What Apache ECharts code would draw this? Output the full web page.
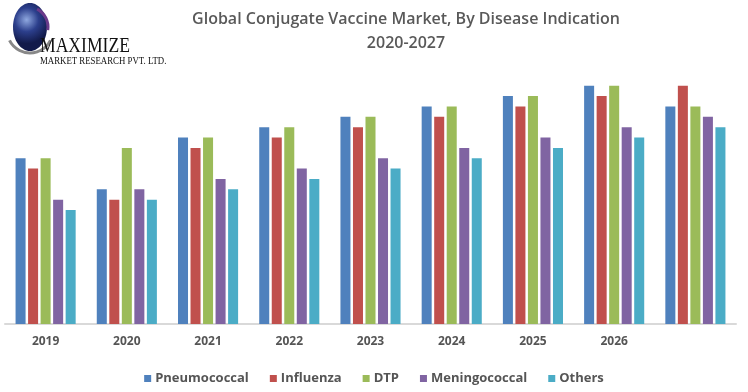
<!DOCTYPE html>
<html>
<head>
<meta charset="utf-8">
<script src="https://cdn.jsdelivr.net/npm/echarts@6/dist/echarts.min.js"></script>
<style>
html,body{margin:0;padding:0;background:#fff;}
#c{width:748px;height:392px;}
</style>
</head>
<body>
<div id="c"></div>
<script>
const categories = ['2019','2020','2021','2022','2023','2024','2025','2026',''];
const seriesNames = ['Pneumococcal','Influenza','DTP','Meningococcal','Others'];
const pneumococcal  = [16,13,18,19,20,21,22,23,21];
const influenza     = [15,12,17,18,19,20,21,22,23];
const dtp           = [16,17,18,19,20,21,22,23,21];
const meningococcal = [12,13,14,15,16,17,18,19,20];
const others        = [11,12,13,14,15,16,17,18,19];
const colors = ['#4F81BD','#C0504D','#9BBB59','#8064A2','#4BACC6'];
const titleLines = ['Global Conjugate Vaccine Market, By Disease Indication','2020-2027'];

const values = [pneumococcal, influenza, dtp, meningococcal, others];
const chart = echarts.init(document.getElementById('c'), null, {renderer:'canvas'});
const txtColor = '#595959';
chart.setOption({
  animation:false,
  color: colors,
  title: {
    text: titleLines.join('\n'),
    left: 401, top: 2, textAlign:'center',
    textStyle:{fontFamily:'Open Sans', fontSize:16, fontWeight:600, color:txtColor, lineHeight:24}
  },
  legend: {
    data: seriesNames, top: 367, left:'center',
    icon:'rect', itemWidth:7, itemHeight:7, itemGap:21,
    textStyle:{fontFamily:'Open Sans', fontSize:13, fontWeight:'bold', color:'#555', padding:[0,0,0,-1]}
  },
  grid: {left:5, right:12, top:65, bottom:68},
  xAxis: {
    type:'category', data: categories,
    axisTick:{show:false},
    axisLine:{lineStyle:{color:'#d9d9d9', width:2}},
    axisLabel:{fontFamily:'Open Sans', fontSize:12, fontWeight:'bold', color:'#555', margin:12}
  },
  yAxis: {type:'value', min:0, max:25, show:false, splitLine:{show:false}},
  series: seriesNames.map((n,i)=>({
    name:n, type:'bar', data: values[i],
    barGap:'25%', barCategoryGap:'26%'
  })),
  graphic: [
    {type:'ellipse', shape:{cx:30, cy:27, rx:17, ry:24},
     style:{fill:{type:'radial', x:0.4, y:0.35, r:0.7, colorStops:[{offset:0,color:'#8fa8e0'},{offset:0.5,color:'#2c3f8c'},{offset:1,color:'#121a4a'}]}}},
    {type:'arc', shape:{cx:30, cy:30, r:23, startAngle:Math.PI*0.15, endAngle:Math.PI*0.85},
     style:{stroke:'#888', lineWidth:3, fill:null}},
    {type:'arc', shape:{cx:28, cy:27, r:20, startAngle:-Math.PI*0.35, endAngle:Math.PI*0.05},
     style:{stroke:'#6a3a8a', lineWidth:3, fill:null}},
    {type:'text', x:40, y:35, scaleX:0.8,
     style:{text:'MAXIMIZE', fontFamily:'Liberation Serif', fontSize:22, fill:'#111'}},
    {type:'text', x:40, y:56, scaleX:0.8,
     style:{text:'MARKET RESEARCH PVT. LTD.', fontFamily:'Liberation Serif', fontSize:11, fill:'#111'}}
  ]
});
</script>
</body>
</html>
